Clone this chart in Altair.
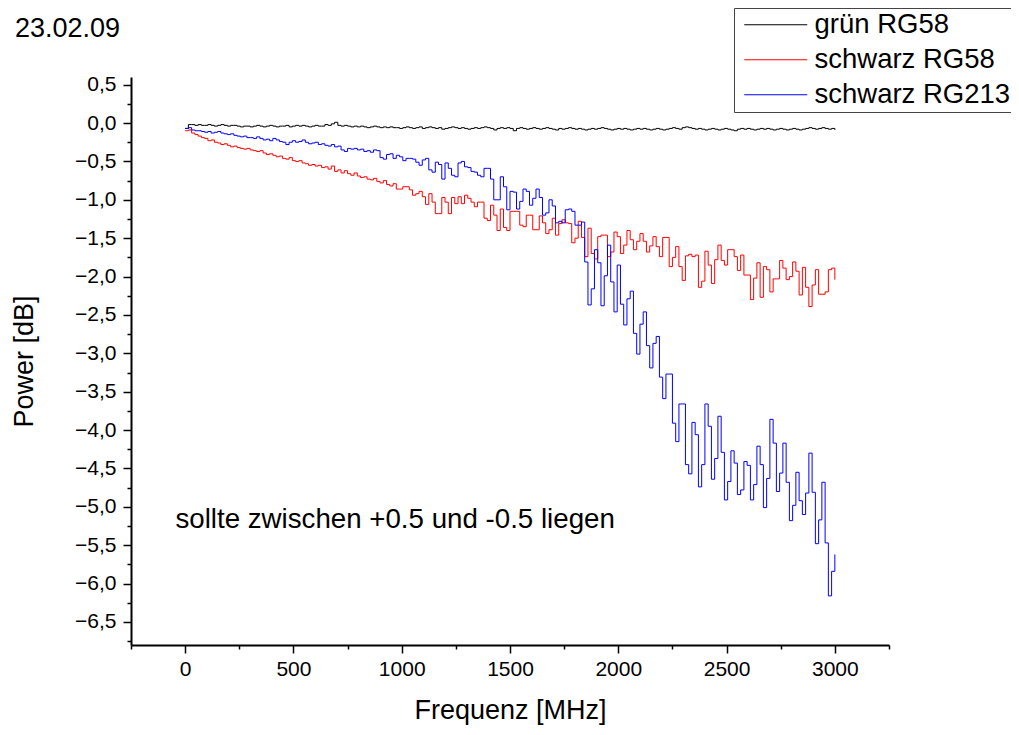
import altair as alt
import pandas as pd

FONT = "Liberation Sans"

series_names = ["grün RG58", "schwarz RG58", "schwarz RG213"]
series_colors = ["#000000", "#ff0000", "#0000ff"]

# frequency grid (MHz), one step every 15 MHz from 0 to 3000
freq = list(range(0, 3001, 15))

gruen_rg58 = [
    -0.07, -0.02, -0.02, -0.03, -0.02, -0.03, -0.03, -0.02, -0.03, -0.04,
    -0.03, -0.02, -0.03, -0.04, -0.03, -0.03, -0.04, -0.05, -0.04, -0.04,
    -0.05, -0.04, -0.03, -0.04, -0.05, -0.04, -0.03, -0.04, -0.05, -0.04,
    -0.04, -0.03, -0.05, -0.04, -0.03, -0.04, -0.03, -0.04, -0.05, -0.04,
    -0.03, -0.04, -0.04, -0.02, -0.03, -0.01, 0.01, -0.03, -0.04, -0.03,
    -0.04, -0.05, -0.04, -0.05, -0.04, -0.05, -0.06, -0.05, -0.04, -0.05,
    -0.06, -0.05, -0.06, -0.05, -0.06,
    -0.06, -0.07, -0.06, -0.05, -0.06, -0.07, -0.06, -0.05, -0.07, -0.06,
    -0.05, -0.06, -0.07, -0.06, -0.08, -0.07, -0.06, -0.05, -0.06, -0.07,
    -0.06, -0.07, -0.08, -0.07, -0.06, -0.07, -0.06, -0.05, -0.06, -0.07,
    -0.09, -0.07, -0.06, -0.07, -0.06, -0.07,
    -0.10, -0.07, -0.06, -0.07, -0.08, -0.07, -0.06, -0.07, -0.08, -0.07,
    -0.06, -0.07, -0.08, -0.09, -0.07, -0.08, -0.07, -0.06, -0.07, -0.08,
    -0.07, -0.08, -0.09, -0.08, -0.07, -0.08, -0.07, -0.06, -0.07, -0.08,
    -0.09, -0.08, -0.07, -0.08, -0.07, -0.08, -0.09, -0.08, -0.07, -0.08,
    -0.07, -0.08, -0.09, -0.08, -0.07, -0.08, -0.09, -0.08, -0.07, -0.06,
    -0.07, -0.08, -0.06, -0.05, -0.06, -0.07, -0.08, -0.07, -0.08, -0.09,
    -0.08, -0.07, -0.08, -0.09, -0.08, -0.07, -0.08, -0.09, -0.10, -0.08,
    -0.07, -0.08, -0.07, -0.08, -0.09, -0.08, -0.07, -0.08, -0.07, -0.08,
    -0.09, -0.08, -0.07, -0.08, -0.09, -0.08, -0.07, -0.08, -0.09, -0.08,
    -0.07, -0.06, -0.07, -0.08, -0.07, -0.06, -0.07, -0.08, -0.07, -0.09,
]

schwarz_rg58 = [
    -0.10, -0.09, -0.13, -0.15, -0.17, -0.19, -0.20, -0.23, -0.22, -0.25,
    -0.26, -0.28, -0.27, -0.29, -0.31, -0.30, -0.32, -0.33, -0.34, -0.33,
    -0.35, -0.36, -0.37, -0.36, -0.39, -0.41, -0.40, -0.42, -0.44, -0.43,
    -0.46, -0.47, -0.45, -0.49, -0.50, -0.49, -0.52, -0.53, -0.55, -0.54,
    -0.56, -0.55, -0.58, -0.57, -0.60, -0.56, -0.63, -0.61, -0.65, -0.62,
    -0.66, -0.68, -0.65, -0.69, -0.71, -0.70, -0.73, -0.74, -0.72, -0.76,
    -0.78, -0.75, -0.80, -0.82, -0.79, -0.86, -0.86, -0.83, -0.83, -0.87,
    -0.94, -0.92, -0.89, -0.96, -1.06, -0.92, -1.03, -1.18, -1.18, -0.97,
    -1.03, -1.18, -0.97, -1.05, -0.96, -1.05, -0.94, -0.98, -1.03, -1.09,
    -1.03, -1.03, -1.24, -1.27, -1.07, -1.20, -1.40, -1.12, -1.36, -1.40,
    -1.15, -1.15, -1.15, -1.33, -1.35, -1.20, -1.20, -1.39, -1.39, -1.21,
    -1.30, -1.44, -1.39, -1.24, -1.46, -1.31, -1.26, -1.30, -1.31, -1.56,
    -1.50, -1.28, -1.49, -1.74, -1.37, -1.70, -1.77, -1.48, -1.46, -1.46,
    -1.74, -1.68, -1.42, -1.48, -1.70, -1.59, -1.40, -1.52, -1.65, -1.54,
    -1.44, -1.54, -1.68, -1.60, -1.48, -1.61, -1.74, -1.49, -1.49, -1.87,
    -1.75, -1.61, -1.87, -2.05, -1.73, -1.71, -1.74, -1.72, -2.14, -2.06,
    -1.67, -1.85, -2.09, -1.78, -1.59, -1.79, -1.85, -1.65, -1.65, -1.74,
    -1.92, -1.72, -1.98, -1.98, -2.30, -2.02, -1.82, -2.27, -1.87, -1.91,
    -2.20, -2.03, -2.03, -1.79, -1.89, -2.04, -2.00, -1.81, -1.93, -2.24,
    -1.88, -2.14, -2.39, -2.11, -1.91, -2.23, -2.23, -2.20, -1.91, -1.89,
    -2.04,
]

schwarz_rg213 = [
    -0.07, -0.06, -0.09, -0.10, -0.10, -0.11, -0.12, -0.11, -0.13, -0.12,
    -0.11, -0.13, -0.14, -0.15, -0.14, -0.16, -0.17, -0.18, -0.17, -0.19,
    -0.19, -0.20, -0.18, -0.20, -0.22, -0.21, -0.23, -0.20, -0.22, -0.24,
    -0.25, -0.28, -0.25, -0.23, -0.25, -0.24, -0.22, -0.25, -0.27, -0.26,
    -0.25, -0.28, -0.27, -0.29, -0.30, -0.28, -0.31, -0.30, -0.35, -0.37,
    -0.33, -0.34, -0.33, -0.35, -0.34, -0.37, -0.36, -0.38, -0.35, -0.36,
    -0.45, -0.47, -0.41, -0.40, -0.46, -0.42, -0.44, -0.49, -0.46, -0.46,
    -0.47, -0.51, -0.55, -0.48, -0.46, -0.61, -0.64, -0.51, -0.54, -0.73,
    -0.52, -0.59, -0.68, -0.70, -0.52, -0.50, -0.57, -0.58, -0.63, -0.64,
    -0.68, -0.70, -0.59, -0.59, -0.73, -1.00, -1.00, -0.70, -0.83, -1.13,
    -0.89, -0.90, -1.12, -1.02, -0.86, -0.89, -1.07, -0.98, -0.86, -0.97,
    -1.20, -1.17, -1.00, -1.08, -1.30, -1.28, -1.30, -1.13, -1.12, -1.15,
    -1.33, -1.33, -1.29, -1.81, -2.37, -2.16, -1.65, -1.82, -2.38, -1.99,
    -1.59, -2.07, -2.46, -1.85, -2.36, -2.63, -2.29, -2.19, -2.74, -3.01,
    -2.62, -2.46, -2.90, -3.19, -2.87, -2.78, -3.31, -3.59, -3.27, -3.27,
    -3.91, -4.15, -3.66, -3.66, -4.45, -4.57, -3.90, -4.06, -4.74, -4.45,
    -3.66, -3.95, -4.64, -4.37, -3.82, -4.29, -4.91, -4.67, -4.27, -4.43,
    -4.84, -4.78, -4.41, -4.46, -4.91, -4.71, -4.21, -4.45, -5.01, -4.63,
    -3.86, -4.17, -4.80, -4.56, -4.17, -4.68, -5.18, -4.98, -4.55, -4.92,
    -5.10, -4.82, -4.30, -4.81, -5.48, -5.17, -4.68, -5.47, -6.16, -5.84,
    -5.62,
]

x_major_ticks = [0, 500, 1000, 1500, 2000, 2500, 3000]
x_minor_ticks = [-250, 250, 750, 1250, 1750, 2250, 2750, 3250]
y_major_ticks = [0.5, 0.0, -0.5, -1.0, -1.5, -2.0, -2.5, -3.0, -3.5, -4.0,
                 -4.5, -5.0, -5.5, -6.0, -6.5]
y_minor_ticks = [0.25, -0.25, -0.75, -1.25, -1.75, -2.25, -2.75, -3.25,
                 -3.75, -4.25, -4.75, -5.25, -5.75, -6.25, -6.75]

chart_title = "23.02.09"
note_text = ["sollte zwischen +0.5 und -0.5 liegen"]
note_x = [-45]
note_y = [-5.17]

rows = []
for name, vals in zip(series_names, [gruen_rg58, schwarz_rg58, schwarz_rg213]):
    for f, v in zip(freq, vals):
        rows.append({"freq": f, "value": v, "series": name})
df = pd.DataFrame(rows)
note_df = pd.DataFrame({"x": note_x, "y": note_y, "t": note_text})

xs = alt.Scale(domain=[-250, 3250], nice=False, zero=False)
ys = alt.Scale(domain=[-6.8, 0.6], nice=False, zero=False)

major_x = alt.Axis(values=x_major_ticks, tickSize=8, tickWidth=1.5, domainWidth=2,
                   domainColor="black", tickColor="black", grid=False,
                   labelFont=FONT, labelFontSize=21, labelColor="black",
                   labelPadding=5, titleFont=FONT, titleFontSize=27,
                   titleFontWeight="normal", titleColor="black", titlePadding=18,
                   orient="bottom", format="d")
major_y = alt.Axis(values=y_major_ticks, tickSize=8, tickWidth=1.5, domainWidth=2,
                   domainColor="black", tickColor="black", grid=False,
                   labelFont=FONT, labelFontSize=21, labelColor="black",
                   labelPadding=7,
                   labelExpr="replace(format(datum.value, '.1f'), '.', ',')",
                   titleFont=FONT, titleFontSize=27, titleFontWeight="normal",
                   titleColor="black", titlePadding=36, orient="left")
minor_x = alt.Axis(values=x_minor_ticks, tickSize=4, tickWidth=1.5, domain=False,
                   labels=False, grid=False, title=None, tickColor="black",
                   orient="bottom")
minor_y = alt.Axis(values=y_minor_ticks, tickSize=4, tickWidth=1.5, domain=False,
                   labels=False, grid=False, title=None, tickColor="black",
                   orient="left")

lines = alt.Chart(df).mark_line(interpolate="step-after", strokeWidth=1).encode(
    x=alt.X("freq:Q", scale=xs, axis=major_x, title="Frequenz [MHz]"),
    y=alt.Y("value:Q", scale=ys, axis=major_y, title="Power [dB]"),
    color=alt.Color(
        "series:N",
        scale=alt.Scale(domain=series_names, range=series_colors),
        legend=alt.Legend(
            title=None, orient="none", legendX=603, legendY=-69,
            symbolType="M-3,0H3", symbolSize=441, symbolStrokeWidth=1,
            symbolOffset=25, labelOffset=25, labelLimit=400,
            labelFont=FONT, labelFontSize=27.5, labelColor="black",
            rowPadding=6, padding=3,
            strokeColor="#444444", fillColor="white",
        ),
    ),
    order=alt.Order("freq:Q"),
)

note = alt.Chart(note_df).mark_text(
    align="left", baseline="middle", font=FONT, fontSize=27.7, color="black"
).encode(
    x=alt.X("x:Q", scale=xs, axis=minor_x),
    y=alt.Y("y:Q", scale=ys, axis=minor_y),
    text="t:N",
)

chart = alt.layer(lines, note).resolve_axis(
    x="independent", y="independent"
).properties(
    width=758,
    height=568,
    autosize=alt.AutoSizeParams(type="none"),
    padding={"left": 123, "top": 69, "right": 122, "bottom": 82},
    title=alt.TitleParams(
        chart_title, anchor="start", frame="group", dx=-116, dy=35, offset=0,
        font=FONT, fontSize=27, fontWeight="normal", color="black",
    ),
).configure_view(stroke=None)

chart.save("out.html", embed_options={"renderer": "svg", "actions": False})
